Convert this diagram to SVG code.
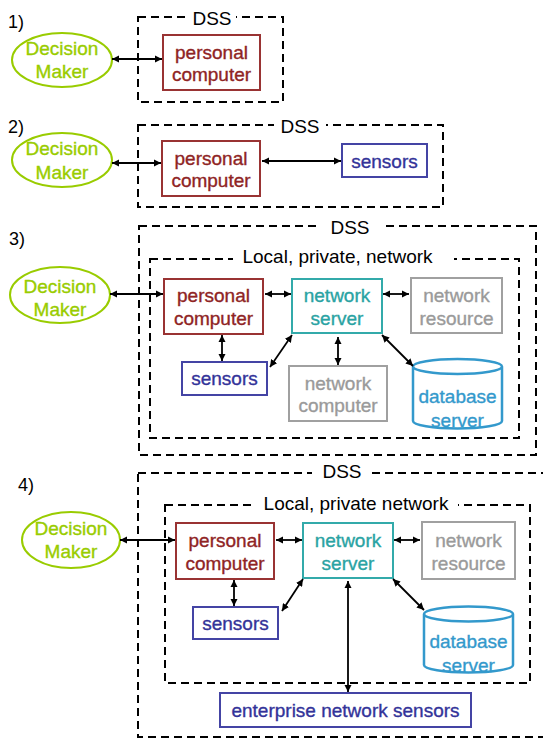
<svg xmlns="http://www.w3.org/2000/svg" width="543" height="738" viewBox="0 0 543 738">
<defs>
<marker id="ah" viewBox="0 0 10 10" refX="10" refY="5" markerWidth="4" markerHeight="4" orient="auto-start-reverse">
<path d="M0,0 L10,5 L0,10 z" fill="#000"/>
</marker>
<style>
text{font-family:"Liberation Sans",Arial,sans-serif;font-size:19px;text-anchor:middle;stroke-width:0.35}
.num{text-anchor:start;font-size:18px;fill:#000}
.lbl{fill:#000;font-size:19px}
.dash{fill:none;stroke:#000;stroke-width:2;stroke-dasharray:8 5}
.mask{fill:#fff;stroke:none}
.dm{fill:#fff;stroke:#99cc00;stroke-width:2}
.dmt{fill:#99cc00;stroke:#99cc00}
.pc{fill:#fff;stroke:#993333;stroke-width:2}
.pct{fill:#8f2424;stroke:#8f2424}
.ns{fill:#fff;stroke:#33aaaa;stroke-width:2}
.nst{fill:#2aa3a3;stroke:#2aa3a3}
.gr{fill:#fff;stroke:#a0a0a0;stroke-width:2}
.grt{fill:#9a9a9a;stroke:#9a9a9a}
.se{fill:#fff;stroke:#4444a4;stroke-width:2}
.set{fill:#333399;stroke:#333399}
.db{fill:#fff;stroke:#3399cc;stroke-width:2.5}
.dbt{fill:#3399cc;stroke:#3399cc}
.c{stroke:#000;stroke-width:1.8;fill:none;marker-start:url(#ah);marker-end:url(#ah)}
</style>
</defs>
<rect width="543" height="738" fill="#fff"/>

<!-- Panel 1 -->
<g id="panel1">
<text class="num" x="8" y="28">1)</text>
<rect class="dash" x="138" y="17" width="145" height="85"/>
<rect class="mask" x="188" y="8" width="48" height="20"/>
<text class="lbl" x="212" y="25">DSS</text>
<g id="p1-dm"><ellipse class="dm" cx="62" cy="60" rx="50" ry="27"/><text class="dmt" x="62" y="55">Decision</text><text class="dmt" x="62" y="78">Maker</text></g>
<g id="p1-pc"><rect class="pc" x="163" y="35" width="97" height="55"/><text class="pct" x="211.5" y="59">personal</text><text class="pct" x="211.5" y="81">computer</text></g>
</g>

<!-- Panel 2 -->
<g id="panel2">
<text class="num" x="8" y="133">2)</text>
<rect class="dash" x="138" y="125" width="305" height="82"/>
<rect class="mask" x="274" y="116" width="52" height="20"/>
<text class="lbl" x="300" y="133">DSS</text>
<g id="p2-dm"><ellipse class="dm" cx="62" cy="160" rx="50" ry="27"/><text class="dmt" x="62" y="155">Decision</text><text class="dmt" x="62" y="179">Maker</text></g>
<g id="p2-pc"><rect class="pc" x="162" y="141" width="98" height="55"/><text class="pct" x="211" y="165">personal</text><text class="pct" x="211" y="187">computer</text></g>
<g id="p2-sensors"><rect class="se" x="342" y="144" width="85" height="33"/><text class="set" x="384.5" y="168">sensors</text></g>
</g>

<!-- Panel 3 -->
<g id="panel3">
<text class="num" x="9" y="245">3)</text>
<rect class="dash" x="139" y="226" width="397" height="229"/>
<rect class="mask" x="318" y="216" width="64" height="20"/>
<text class="lbl" x="350" y="234">DSS</text>
<rect class="dash" x="150" y="259" width="369" height="179"/>
<rect class="mask" x="233" y="248" width="221" height="20"/>
<text class="lbl" x="337.5" y="263">Local, private, network</text>
<g id="p3-dm"><ellipse class="dm" cx="60" cy="295" rx="50" ry="28"/><text class="dmt" x="60" y="293">Decision</text><text class="dmt" x="60" y="316">Maker</text></g>
<g id="p3-pc"><rect class="pc" x="164" y="279" width="99" height="55"/><text class="pct" x="213.5" y="302">personal</text><text class="pct" x="213.5" y="325">computer</text></g>
<g id="p3-ns"><rect class="ns" x="292" y="279" width="90" height="54"/><text class="nst" x="337" y="302">network</text><text class="nst" x="337" y="325">server</text></g>
<g id="p3-nr"><rect class="gr" x="411" y="278" width="91" height="55"/><text class="grt" x="456.5" y="302">network</text><text class="grt" x="456.5" y="325">resource</text></g>
<g id="p3-sensors"><rect class="se" x="182" y="362" width="85" height="33"/><text class="set" x="224.5" y="385">sensors</text></g>
<g id="p3-nc"><rect class="gr" x="289" y="366" width="98" height="55"/><text class="grt" x="338" y="390">network</text><text class="grt" x="338" y="412">computer</text></g>
<g id="p3-db"><path class="db" d="M413,366.5 A44.5,7.5 0 0 1 502,366.5 V421 A44.5,7.5 0 0 1 413,421 Z M413,366.5 A44.5,7.5 0 0 0 502,366.5"/><text class="dbt" x="457.5" y="403">database</text><text class="dbt" x="457.5" y="427">server</text></g>
</g>

<!-- Panel 4 -->
<g id="panel4">
<text class="num" x="18" y="491">4)</text>
<rect class="dash" x="138" y="473" width="410" height="264"/>
<rect class="mask" x="312" y="462" width="60" height="20"/>
<text class="lbl" x="342" y="478">DSS</text>
<rect class="dash" x="165" y="505" width="365" height="178"/>
<rect class="mask" x="255" y="494" width="203" height="20"/>
<text class="lbl" x="356" y="510">Local, private network</text>
<g id="p4-dm"><ellipse class="dm" cx="71" cy="540" rx="49" ry="28"/><text class="dmt" x="71" y="535">Decision</text><text class="dmt" x="71" y="558">Maker</text></g>
<g id="p4-pc"><rect class="pc" x="176" y="523" width="98" height="56"/><text class="pct" x="225" y="547">personal</text><text class="pct" x="225" y="570">computer</text></g>
<g id="p4-ns"><rect class="ns" x="303" y="523" width="90" height="55"/><text class="nst" x="348" y="547">network</text><text class="nst" x="348" y="570">server</text></g>
<g id="p4-nr"><rect class="gr" x="422" y="522" width="93" height="57"/><text class="grt" x="468.5" y="547">network</text><text class="grt" x="468.5" y="570">resource</text></g>
<g id="p4-sensors"><rect class="se" x="193" y="607" width="85" height="32"/><text class="set" x="235.5" y="630">sensors</text></g>
<g id="p4-db"><path class="db" d="M424,614 A44.5,7.5 0 0 1 513,614 V665 A44.5,7.5 0 0 1 424,665 Z M424,614 A44.5,7.5 0 0 0 513,614"/><text class="dbt" x="468.5" y="648">database</text><text class="dbt" x="468.5" y="672">server</text></g>
<g id="p4-ens"><rect class="se" x="220" y="693" width="251" height="34"/><text class="set" x="345.5" y="717">enterprise network sensors</text></g>
</g>

<g id="connectors">
<line class="c" x1="112" y1="59" x2="162" y2="59"/>
<line class="c" x1="112" y1="163" x2="161" y2="163"/>
<line class="c" x1="262" y1="161" x2="341" y2="161"/>
<line class="c" x1="110" y1="294" x2="163" y2="294"/>
<line class="c" x1="265" y1="294" x2="291" y2="294"/>
<line class="c" x1="383" y1="294" x2="409" y2="294"/>
<line class="c" x1="222" y1="335" x2="222" y2="361"/>
<line class="c" x1="292" y1="335" x2="270" y2="367"/>
<line class="c" x1="338" y1="337" x2="338" y2="365"/>
<line class="c" x1="382" y1="335" x2="413" y2="366"/>
<line class="c" x1="120" y1="540" x2="175" y2="540"/>
<line class="c" x1="276" y1="540" x2="302" y2="540"/>
<line class="c" x1="394" y1="540" x2="420" y2="540"/>
<line class="c" x1="234" y1="580" x2="234" y2="606"/>
<line class="c" x1="303" y1="579" x2="282" y2="611"/>
<line class="c" x1="348" y1="581" x2="348" y2="692"/>
<line class="c" x1="393" y1="579" x2="424" y2="610"/>
</g>
</svg>
